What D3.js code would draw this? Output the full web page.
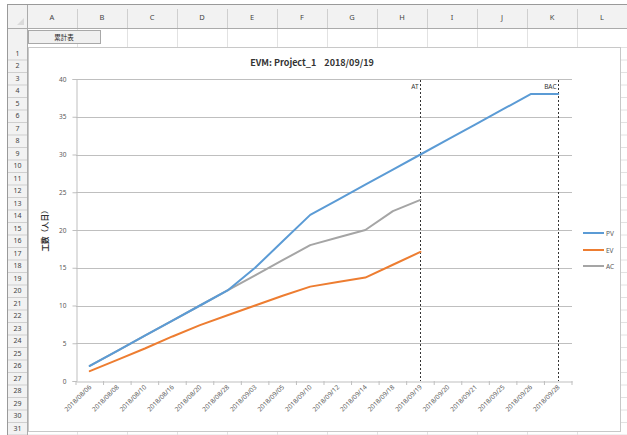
<!DOCTYPE html>
<html><head><meta charset="utf-8">
<script src="https://cdn.jsdelivr.net/npm/d3@7"></script>
<style>
html,body{margin:0;padding:0;background:#fff;}
svg{display:block;font-family:"Noto Sans CJK JP","Noto Sans",sans-serif;}
</style></head>
<body><svg id="c" width="627" height="435"></svg>
<script>
// ---- data ----
const categories = ["2018/08/06","2018/08/08","2018/08/10","2018/08/16","2018/08/20","2018/08/28",
  "2018/09/03","2018/09/05","2018/09/10","2018/09/12","2018/09/14","2018/09/18",
  "2018/09/19","2018/09/20","2018/09/21","2018/09/25","2018/09/26","2018/09/28"];
const pv = [2,4,6,8,10,12,15,18.5,22,24,26,28,30,32,34,36,38,38];
const ev = [1.3,2.8,4.3,5.9,7.4,8.7,10,11.3,12.5,13.1,13.7,15.4,17.1];
const ac = [2,4,6,8,10,12,14,16,18,19,20,22.5,24];
const seriesNames = ["PV","EV","AC"];
const seriesColors = ["#5B9BD5","#ED7D31","#A5A5A5"];
const yTicks = [0,5,10,15,20,25,30,35,40];
const markers = [{label:"AT", cat:"2018/09/19"},{label:"BAC", cat:"2018/09/28"}];
const chartTitle = "EVM: Project_1    2018/09/19";
const yTitle = "工数（人日）";
const columnLetters = ["A","B","C","D","E","F","G","H","I","J","K","L"];
const buttonText = "累計表";

const svg = d3.select("#c");

// ---- spreadsheet chrome ----
const hdrTop = 5, hdrBot = 28, rowHdrL = 8, rowHdrR = 27;
const colW = 50, rowH = 12.5;
svg.append("rect").attr("x",0).attr("y",0).attr("width",627).attr("height",435).attr("fill","#fff");
const gridG = svg.append("g").attr("stroke","#E2E2E2").attr("stroke-width",1);
for (let i=0;i<=columnLetters.length;i++){
  const x = rowHdrR + i*colW + 0.5;
  gridG.append("line").attr("x1",x).attr("x2",x).attr("y1",hdrBot).attr("y2",435);
}
const rowYs = [hdrBot, 47];
for (let r=2; r<=33; r++) rowYs.push(47 + (r-1)*rowH);
rowYs.forEach(y=>gridG.append("line").attr("x1",rowHdrR).attr("x2",627).attr("y1",y+0.5).attr("y2",y+0.5));
svg.append("rect").attr("x",rowHdrL).attr("y",hdrTop).attr("width",627-rowHdrL).attr("height",hdrBot-hdrTop)
  .attr("fill","#F2F2F2");
svg.append("rect").attr("x",rowHdrL).attr("y",hdrBot).attr("width",rowHdrR-rowHdrL).attr("height",435-hdrBot)
  .attr("fill","#F2F2F2");
columnLetters.forEach((c,i)=>{
  const x0 = rowHdrR + i*colW;
  svg.append("line").attr("x1",x0+colW+0.5).attr("x2",x0+colW+0.5).attr("y1",hdrTop+4).attr("y2",hdrBot)
    .attr("stroke","#CFCFCF");
  svg.append("text").attr("x",x0+colW/2).attr("y",(hdrTop+hdrBot)/2+3).attr("text-anchor","middle")
    .attr("font-size",7.5).attr("fill","#444").attr("font-family","Noto Sans, sans-serif").text(c);
});
for (let r=1;r<=32;r++){
  const y0 = rowYs[r], y1 = rowYs[r+1];
  svg.append("line").attr("x1",rowHdrL).attr("x2",rowHdrR).attr("y1",y1+0.5).attr("y2",y1+0.5).attr("stroke","#CFCFCF");
  if (r<=31) svg.append("text").attr("x",(rowHdrL+rowHdrR)/2).attr("y",(y0+y1)/2+2.5).attr("text-anchor","middle")
    .attr("font-size",7).attr("fill","#444").attr("font-family","Noto Sans, sans-serif").text(r);
}
svg.append("line").attr("x1",rowHdrL).attr("x2",627).attr("y1",hdrBot+0.5).attr("y2",hdrBot+0.5).attr("stroke","#ABABAB");
svg.append("line").attr("x1",rowHdrR+0.5).attr("x2",rowHdrR+0.5).attr("y1",hdrTop).attr("y2",435).attr("stroke","#ABABAB");
svg.append("rect").attr("x",rowHdrL-0.5).attr("y",hdrTop-0.5).attr("width",627-rowHdrL+1).attr("height",435-hdrTop+1)
  .attr("fill","none").attr("stroke","#9A9A9A");
svg.append("path").attr("d",`M${rowHdrR-3},${hdrBot-10} L${rowHdrR-3},${hdrBot-3} L${rowHdrR-10},${hdrBot-3} Z`).attr("fill","#DADADA");
svg.append("rect").attr("x",28.5).attr("y",30.5).attr("width",72).attr("height",13).attr("fill","#F0F0F0")
  .attr("stroke","#A8A8A8");
svg.append("text").attr("x",64).attr("y",40).attr("text-anchor","middle").attr("font-size",6.5).attr("fill","#222").text(buttonText);

// ---- chart object ----
svg.append("rect").attr("x",28.5).attr("y",47.5).attr("width",592).attr("height",384).attr("fill","#fff")
  .attr("stroke","#C8C8C8");

const L = 76, R = 572, T = 79, B = 381;
const x = d3.scaleBand().domain(categories).range([L,R]).padding(0);
const cx = c => x(c) + x.bandwidth()/2;
const y = d3.scaleLinear().domain([0,40]).range([B,T]);

svg.append("text").attr("x",312).attr("y",66).attr("text-anchor","middle").attr("font-size",9)
  .attr("font-weight","bold").attr("fill","#333").style("white-space","pre").text(chartTitle);

svg.append("g").selectAll("line").data(yTicks.filter(d=>d>0)).join("line")
  .attr("x1",L).attr("x2",R).attr("y1",d=>Math.round(y(d))+0.5).attr("y2",d=>Math.round(y(d))+0.5)
  .attr("stroke","#BFBFBF").attr("stroke-width",1);

const yAxis = svg.append("g").attr("transform",`translate(${L+0.5},0)`)
  .call(d3.axisLeft(y).tickValues(yTicks).tickSize(4).tickPadding(6));
yAxis.select(".domain").attr("stroke","#BFBFBF");
yAxis.selectAll(".tick line").attr("stroke","#BFBFBF");
yAxis.selectAll("text").attr("font-size",6.5).attr("fill","#595959").attr("font-family","Noto Sans, sans-serif");

const xAxis = svg.append("g").attr("transform",`translate(0,${B+0.5})`)
  .call(d3.axisBottom(x).tickSize(0).tickPadding(0));
xAxis.select(".domain").attr("stroke","#BFBFBF");
xAxis.selectAll(".tick text").attr("font-size",6.5).attr("fill","#595959").attr("font-family","Noto Sans, sans-serif")
  .attr("text-anchor","end").attr("dy",0).attr("transform","translate(2,6) rotate(-45)");
svg.append("g").selectAll("line").data(d3.range(categories.length+1)).join("line")
  .attr("x1",i=>L + i*x.bandwidth()).attr("x2",i=>L + i*x.bandwidth())
  .attr("y1",B).attr("y2",B+4).attr("stroke","#BFBFBF");

svg.append("text").attr("transform",`translate(48,229) rotate(-90)`).attr("text-anchor","middle")
  .attr("font-size",7.5).attr("font-weight","bold").attr("fill","#333").text(yTitle);

markers.forEach(m=>{
  const mx = Math.round(cx(m.cat))+0.5;
  svg.append("line").attr("x1",mx).attr("x2",mx).attr("y1",T+1).attr("y2",B)
    .attr("stroke","#333").attr("stroke-width",1).attr("stroke-dasharray","2,2");
  svg.append("text").attr("x",mx-2).attr("y",T+10).attr("text-anchor","end").attr("font-size",6.5)
    .attr("fill","#333").attr("font-family","Noto Sans, sans-serif").text(m.label);
});

// series (AC drawn beneath PV so the shared early segment reads blue)
const line = d3.line().x((d,i)=>cx(categories[i])).y(d=>y(d));
const order = [2,1,0];
const data = [pv,ev,ac];
order.forEach(k=>{
  svg.append("path").datum(data[k]).attr("d",line).attr("fill","none").attr("stroke",seriesColors[k])
    .attr("stroke-width",2).attr("stroke-linejoin","round").attr("stroke-linecap","round");
});

const legY = [233,250,266];
seriesNames.forEach((n,k)=>{
  svg.append("line").attr("x1",583).attr("x2",604).attr("y1",legY[k]).attr("y2",legY[k])
    .attr("stroke",seriesColors[k]).attr("stroke-width",2);
  svg.append("text").attr("x",606).attr("y",legY[k]+2.5).attr("font-size",6.5).attr("fill","#595959")
    .attr("font-family","Noto Sans, sans-serif").text(n);
});
</script></body></html>
